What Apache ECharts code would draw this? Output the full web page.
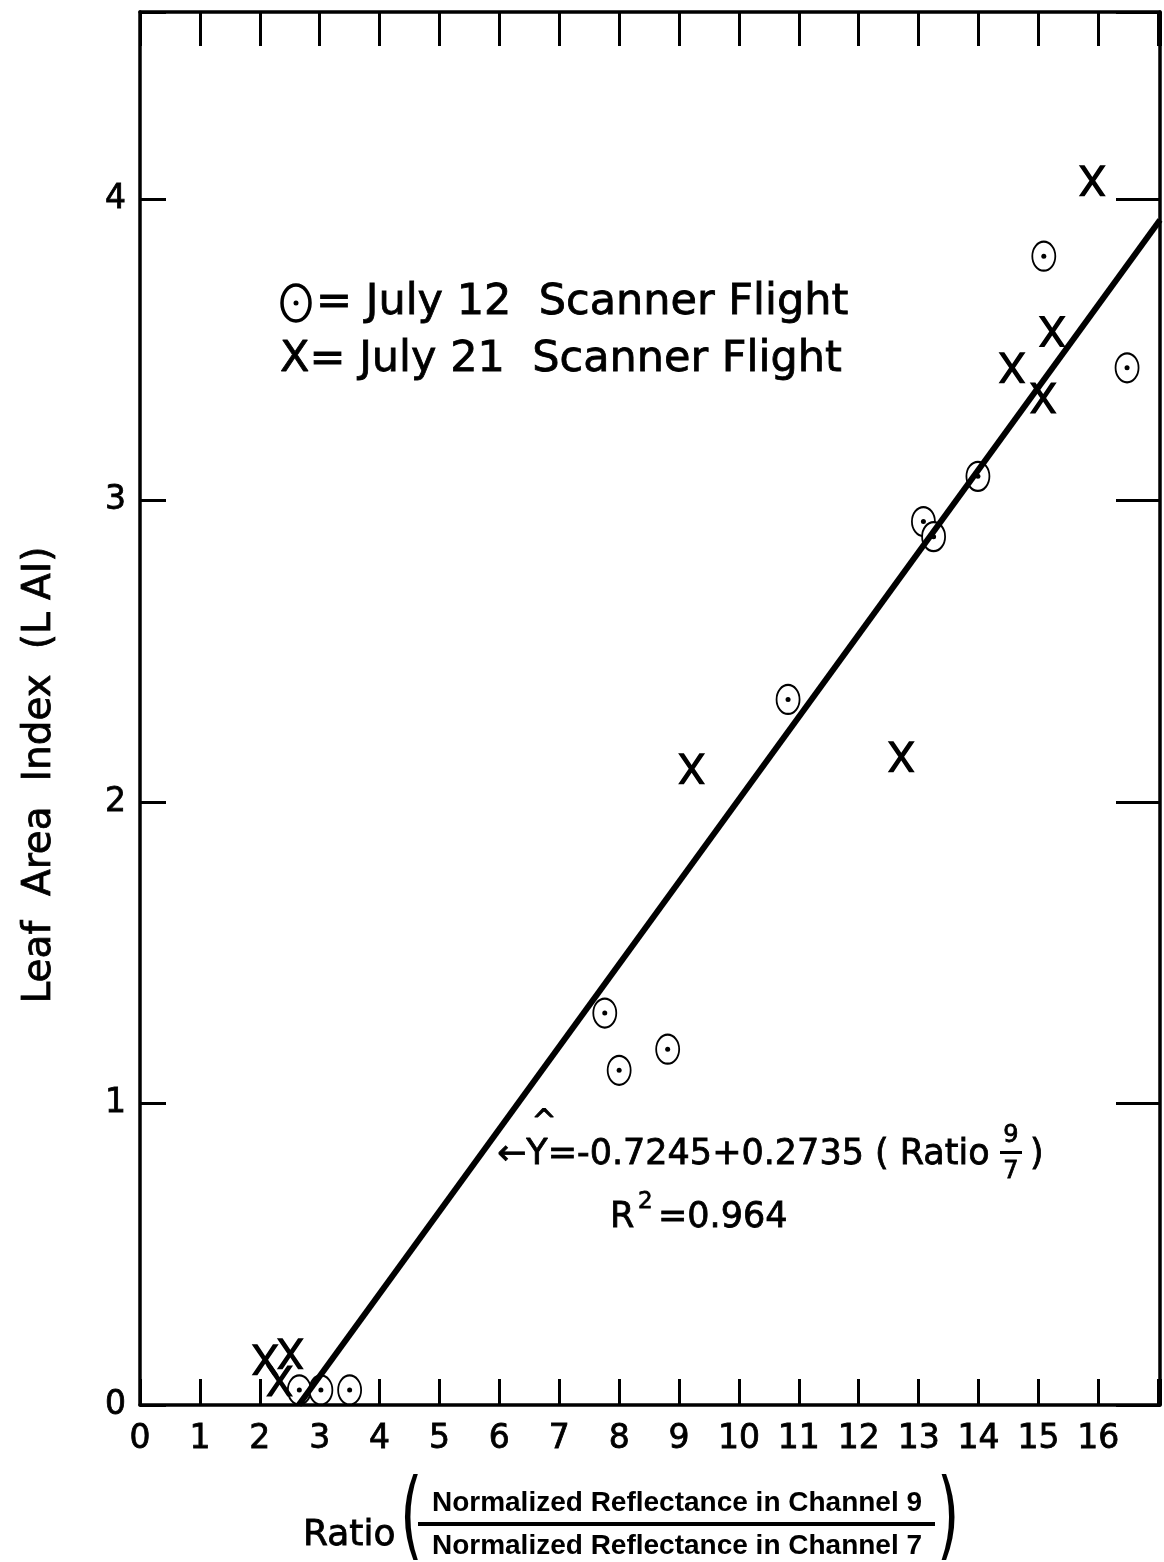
<!DOCTYPE html>
<html>
<head>
<meta charset="utf-8">
<script src="https://cdn.jsdelivr.net/npm/echarts@6/dist/echarts.min.js"></script>
<style>
html,body{margin:0;padding:0;background:#fff;}
#chart{width:1164px;height:1562px;}
</style>
</head>
<body>
<div id="chart"></div>
<script>
// ---- data ----
var july12X = [2.66, 3.02, 3.50, 7.76, 8.00, 8.81, 10.82, 13.08, 13.25, 13.99, 15.09, 16.48];
var july12Y = [0.05, 0.05, 0.05, 1.30, 1.11, 1.18, 2.34, 2.93, 2.88, 3.08, 3.81, 3.44];
var july21X = [2.09, 2.33, 2.51, 9.21, 12.71, 14.56, 15.08, 15.23, 15.90];
var july21Y = [0.15, 0.08, 0.17, 2.11, 2.15, 3.44, 3.34, 3.56, 4.06];
var fitX = [2.65, 17.03];
var fitY = [0.00, 3.93];
var xTickLabels = ['0','1','2','3','4','5','6','7','8','9','10','11','12','13','14','15','16'];
var yTickLabels = ['0','1','2','3','4'];

function zip(a, b) { return a.map(function (v, i) { return [v, b[i]]; }); }

var FONT = 'DejaVu Sans';
var chart = echarts.init(document.getElementById('chart'), null, {renderer: 'canvas'});
var axisLineStyle = {color: '#000', width: 3.5};
var xMark = 'path://M0,0 L5.5,0 L13,10.5 L20.5,0 L26,0 L15.8,14 L26,28 L20.5,28 L13,17.5 L5.5,28 L0,28 L10.2,14 Z';

var txt = function (x, y, text, size, opts) {
  return {type: 'text', x: x, y: y, style: Object.assign({
    text: text, fill: '#000', font: (size) + 'px "' + FONT + '"',
    textVerticalAlign: 'middle', stroke: '#000', lineWidth: 0.8
  }, opts || {})};
};

var option = {
  backgroundColor: '#fff',
  animation: false,
  grid: {left: 140, right: 4, top: 12, bottom: 157},
  xAxis: [{
    type: 'value', min: 0, max: 17.03, interval: 1, position: 'bottom',
    axisLine: {show: true, onZero: false, lineStyle: axisLineStyle},
    axisTick: {show: true, inside: true, length: 26, lineStyle: {color: '#000', width: 3}},
    splitLine: {show: false},
    axisLabel: {
      color: '#000', fontSize: 33, fontFamily: FONT, margin: 18,
      textBorderColor: '#000', textBorderWidth: 0.8,
      formatter: function (v) { var i = Math.round(v); return xTickLabels[i] !== undefined ? xTickLabels[i] : ''; }
    }
  }, {
    type: 'value', min: 0, max: 17.03, interval: 1, position: 'top',
    axisLine: {show: true, onZero: false, lineStyle: axisLineStyle},
    axisTick: {show: true, inside: true, length: 34, lineStyle: {color: '#000', width: 3}},
    splitLine: {show: false},
    axisLabel: {show: false}
  }],
  yAxis: [{
    type: 'value', min: 0, max: 4.62, interval: 1, position: 'left',
    axisLine: {show: true, onZero: false, lineStyle: axisLineStyle},
    axisTick: {show: true, inside: true, length: 26, lineStyle: {color: '#000', width: 3}},
    splitLine: {show: false},
    axisLabel: {
      color: '#000', fontSize: 33, fontFamily: FONT, margin: 14,
      textBorderColor: '#000', textBorderWidth: 0.8,
      formatter: function (v) { var i = Math.round(v); return yTickLabels[i] !== undefined ? yTickLabels[i] : ''; }
    }
  }, {
    type: 'value', min: 0, max: 4.62, interval: 1, position: 'right',
    axisLine: {show: true, onZero: false, lineStyle: axisLineStyle},
    axisTick: {show: true, inside: true, length: 44, lineStyle: {color: '#000', width: 3}},
    splitLine: {show: false},
    axisLabel: {show: false}
  }],
  series: [{
    name: 'July 12 Scanner Flight', type: 'scatter', data: zip(july12X, july12Y),
    symbol: 'emptyCircle', symbolSize: [23, 29],
    itemStyle: {color: '#000', borderColor: '#000', borderWidth: 4, opacity: 1}, z: 3
  }, {
    name: 'July 12 dot', type: 'scatter', data: zip(july12X, july12Y),
    symbol: 'circle', symbolSize: 5, itemStyle: {color: '#000', opacity: 1}, z: 4
  }, {
    name: 'July 21 Scanner Flight', type: 'scatter', data: zip(july21X, july21Y),
    symbol: xMark, symbolSize: [27, 31], itemStyle: {color: '#000', opacity: 1}, z: 4
  }, {
    name: 'fit', type: 'line', data: zip(fitX, fitY), symbol: 'none',
    lineStyle: {color: '#000', width: 6}, z: 5
  }],
  graphic: [
    // legend
    {type: 'ellipse', shape: {cx: 296, cy: 303, rx: 14, ry: 18}, style: {fill: 'none', stroke: '#000', lineWidth: 3.5}},
    {type: 'circle', shape: {cx: 296, cy: 303, r: 2.5}, style: {fill: '#000'}},
    txt(316, 303, '= July 12  Scanner Flight', 43),
    txt(280, 360, 'X= July 21  Scanner Flight', 43),
    // y axis title
    {type: 'text', x: 40, y: 775, rotation: Math.PI / 2,
      style: {text: 'Leaf  Area  Index  (L AI)', fill: '#000', font: '39px "' + FONT + '"',
        textAlign: 'center', textVerticalAlign: 'middle', stroke: '#000', lineWidth: 0.8}},
    // equation
    txt(497, 1155, '\u2190Y=-0.7245+0.2735 ( Ratio', 35),
    txt(544, 1123, '^', 30, {textAlign: 'center'}),
    txt(1011, 1136, '9', 24, {textAlign: 'center'}),
    {type: 'rect', shape: {x: 1000, y: 1151, width: 22, height: 3}, style: {fill: '#000'}},
    txt(1011, 1172, '7', 24, {textAlign: 'center'}),
    txt(1030, 1155, ')', 35),
    txt(610, 1218, 'R', 35),
    txt(638, 1202, '2', 23),
    txt(658, 1218, '=0.964', 35),
    // x axis title
    txt(303, 1536, 'Ratio', 36),
    {type: 'text', x: 400, y: 1522, scaleX: 0.6, style: {text: '(', fill: '#000', font: '96px "' + FONT + '"', textVerticalAlign: 'middle'}},
    {type: 'text', x: 677, y: 1503, style: {text: 'Normalized Reflectance in Channel 9', fill: '#000', font: 'bold 28px "Liberation Sans"', textAlign: 'center', textVerticalAlign: 'middle'}},
    {type: 'rect', shape: {x: 418, y: 1522, width: 517, height: 4}, style: {fill: '#000'}},
    {type: 'text', x: 677, y: 1546, style: {text: 'Normalized Reflectance in Channel 7', fill: '#000', font: 'bold 28px "Liberation Sans"', textAlign: 'center', textVerticalAlign: 'middle'}},
    {type: 'text', x: 937, y: 1522, scaleX: 0.6, style: {text: ')', fill: '#000', font: '96px "' + FONT + '"', textVerticalAlign: 'middle'}}
  ]
};
chart.setOption(option);
</script>
</body>
</html>
